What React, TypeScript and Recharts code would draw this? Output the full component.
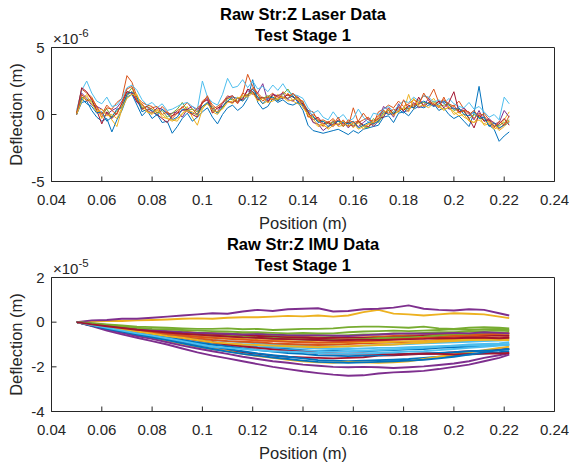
import React from "react";
import { LineChart, Line, XAxis, YAxis } from "recharts";

// ---------- shared ----------
const COLORS = ["#0072BD", "#D95319", "#EDB120", "#7E2F8E", "#77AC30", "#4DBEEE", "#A2142F"];
const xTicks = [0.04, 0.06, 0.08, 0.1, 0.12, 0.14, 0.16, 0.18, 0.2, 0.22, 0.24];
const laserYTicks = [-5, 0, 5];
const imuYTicks = [-4, -2, 0, 2];
const titles = ["Raw Str:Z Laser Data", "Raw Str:Z IMU Data"];
const subtitle = "Test Stage 1";
const xLabel = "Position (m)";
const yLabel = "Deflection (m)";

// ---------- Laser data (units of 1e-6 m) ----------
const laserPos = [
  0.05, 0.052, 0.054, 0.056, 0.058, 0.06, 0.062, 0.064, 0.066, 0.068,
  0.07, 0.072, 0.074, 0.076, 0.078, 0.08, 0.082, 0.084, 0.086, 0.088,
  0.09, 0.092, 0.094, 0.096, 0.098, 0.1, 0.102, 0.104, 0.106, 0.108,
  0.11, 0.112, 0.114, 0.116, 0.118, 0.12, 0.122, 0.124, 0.126, 0.128,
  0.13, 0.132, 0.134, 0.136, 0.138, 0.14, 0.142, 0.144, 0.146, 0.148,
  0.15, 0.152, 0.154, 0.156, 0.158, 0.16, 0.162, 0.164, 0.166, 0.168,
  0.17, 0.172, 0.174, 0.176, 0.178, 0.18, 0.182, 0.184, 0.186, 0.188,
  0.19, 0.192, 0.194, 0.196, 0.198, 0.2, 0.202, 0.204, 0.206, 0.208,
  0.21, 0.212, 0.214, 0.216, 0.218, 0.22, 0.222,
];
const laser01 = [
  0, 0.9, 1.0, 0.3, -0.2, -0.5, -0.3, -1.3, -0.4, 0.3,
  1.3, 1.5, 0.7, -0.1, 0.3, -0.3, 0.0, -0.6, -0.5, -1.4,
  -0.9, -0.3, 0.1, -0.5, -0.2, 0.2, 0.5, -0.2, -0.7, 0.0,
  0.5, 0.7, 0.3, 0.6, 1.2, 2.6, 0.9, 0.4, 0.6, 1.2,
  0.9, 1.1, 0.8, 0.7, 0.9, 0.3, -0.8, -1.2, -1.3, -1.4,
  -1.3, -1.2, -1.1, -1.3, -1.5, -1.2, -1.4, -1.1, -1.0, -0.9,
  -0.8, -0.2, -0.1, -0.6, 0.1, 0.2, -0.1, 0.4, 0.6, 0.5,
  0.7, 0.8, 0.3, 0.5, 0.0, -0.3, -0.1, -0.5, -0.9, 0.1,
  2.1, -0.2, -0.8, -1.1, -2.0, -1.6, -1.3,
];
const laser02 = [
  0.2, 1.9, 1.6, 1.3, 0.5, -0.2, 0.5, 0.4, 0.9, 1.2,
  2.9, 2.4, 1.3, 0.9, 0.7, 0.6, 0.1, 0.6, 0.2, -0.1,
  0.3, 0.5, 0.9, 0.4, 0.0, 1.0, 1.3, 0.7, 0.4, 0.9,
  1.4, 1.2, 0.8, 1.5, 3.0, 2.1, 1.6, 1.2, 1.3, 1.6,
  1.0, 1.7, 1.4, 1.5, 1.3, 0.9, 0.3, 0.2, -0.5, -0.4,
  -0.6, -0.3, -0.8, -0.4, -0.9, 0.5, -0.6, -0.4, -0.2, -0.7,
  0.2, 0.4, 0.7, 0.5, 1.0, 0.6, 0.8, 1.1, 0.9, 1.4,
  1.2, 1.9, 0.9, 1.1, 0.8, 0.6, 1.0, 0.4, 0.0, 0.3,
  -0.2, 0.1, -0.4, -0.6, -1.1, -0.7, -0.5,
];
const laser03 = [
  0.1, 1.1, 1.5, 1.2, 0.6, -0.3, 0.1, -0.4, -0.9, 0.4,
  1.4, 1.7, 1.5, 0.4, 0.2, 0.0, 0.4, -0.2, -0.3, -0.5,
  -0.3, 0.0, 0.6, -0.2, -0.8, 0.4, 0.9, 0.2, 0.0, 0.5,
  1.0, 0.8, 1.3, 1.0, 1.5, 1.6, 1.2, 0.8, 1.0, 1.2,
  1.5, 1.2, 1.6, 1.0, 0.8, 0.7, -0.1, -0.5, -0.9, -0.8,
  -1.0, -0.4, -0.9, -0.8, -0.5, -1.0, -0.6, -1.1, -0.7, -0.8,
  -0.2, 0.3, 0.0, 0.2, 0.5, 0.3, 1.5, 0.4, 1.1, 0.6,
  0.9, 1.2, 0.6, 0.4, 0.5, 0.2, -0.1, 0.0, -0.5, -0.6,
  -0.1, -0.8, -0.7, -1.1, -0.9, -0.4, 0.2,
];
const laser04 = [
  0.0, 1.6, 1.2, 0.7, 0.6, 0.4, 0.0, 0.3, 0.5, 1.0,
  1.7, 1.6, 0.9, 0.7, 0.3, 0.1, 0.5, 0.4, 0.0, 0.1,
  0.2, -0.2, 0.4, 0.6, 0.3, 0.9, 1.2, 0.3, 0.2, 0.8,
  1.3, 1.4, 0.9, 1.2, 1.8, 1.5, 1.6, 2.3, 1.0, 1.5,
  1.4, 1.6, 1.1, 1.0, 1.3, 0.6, 0.2, -0.6, -0.7, -1.2,
  -0.9, -0.5, -0.8, -0.5, -1.0, -0.6, -0.9, -0.6, -0.3, -0.9,
  -0.5, 0.6, 0.3, -0.2, 0.8, 0.2, 0.3, 0.9, 0.5, 0.7,
  1.2, 0.6, 1.0, 0.9, 0.4, 0.5, 0.2, 0.5, 0.1, -0.4,
  0.3, -0.5, -0.3, -0.7, -0.6, 0.3, -0.2,
];
const laser05 = [
  0.1, 1.3, 1.1, 1.0, 0.2, 0.1, 0.4, -0.2, 0.3, 0.6,
  1.5, 2.0, 1.1, 0.5, 0.6, 0.4, 0.1, 0.3, -0.2, 0.1,
  0.4, 0.9, 0.3, 0.4, 0.2, 0.6, 0.8, 0.6, 0.1, 0.5,
  1.2, 1.1, 1.0, 1.3, 1.5, 1.7, 1.3, 1.2, 1.4, 1.3,
  1.1, 1.5, 1.9, 1.3, 1.2, 0.9, 0.0, -0.2, -0.5, -0.5,
  -0.7, -0.6, -0.5, -0.9, -0.6, -0.8, -0.5, -0.9, -1.0, -0.3,
  -0.6, 0.0, 0.3, 0.1, 0.2, 0.5, 0.4, 0.7, 0.8, 0.9,
  0.8, 1.0, 0.6, 0.7, 0.8, 0.3, 0.4, 0.2, -0.3, 0.0,
  -0.2, -0.4, -0.5, -0.9, -0.8, -0.6, -0.4,
];
const laser06 = [
  0.3, 1.8, 2.5, 1.6, 1.0, 0.8, 1.3, 0.6, 0.7, 1.2,
  2.0, 2.2, 1.8, 1.1, 0.7, 0.9, 0.5, 0.8, 0.3, 0.4,
  0.6, 0.8, 0.9, 0.6, 0.4, 2.5, 1.3, 0.9, 0.7, 1.5,
  2.7, 2.0, 2.1, 2.6, 2.0, 2.5, 1.9, 2.1, 1.7, 2.2,
  1.8, 2.3, 1.7, 1.5, 1.4, 1.2, 0.5, 0.1, 0.3, -0.2,
  -0.4, 0.2, -0.3, 0.0, -0.5, -0.3, 0.4, -0.2, -0.6, 0.1,
  0.0, 0.4, 0.6, 0.2, 0.7, 1.0, 0.9, 1.3, 1.0, 1.4,
  1.3, 0.9, 1.1, 0.8, 1.2, 0.8, 0.6, 0.5, 0.9, 0.4,
  0.6, 0.2, -0.2, 0.0, -0.4, 1.3, 0.8,
];
const laser07 = [
  0.0, 2.0, 1.7, 1.1, 0.3, -0.7, 0.2, -0.3, 0.1, 0.8,
  1.7, 1.6, 1.0, 0.4, 0.6, 0.2, 0.0, -0.3, -0.6, -0.1,
  0.1, 0.3, 0.4, 0.0, -0.2, 0.9, 1.1, 0.1, 0.5, 0.6,
  1.0, 0.9, 1.2, 1.1, 1.9, 1.7, 1.1, 1.3, 0.9, 1.5,
  1.3, 1.2, 1.5, 1.3, 1.0, 0.8, 0.2, -0.4, -0.2, -0.7,
  -0.6, -0.9, -0.4, -0.7, -0.6, -0.9, -0.5, -0.8, -0.9, -0.6,
  -0.3, -0.2, 0.5, 0.0, 0.6, 0.3, 0.7, 0.5, 1.3, 0.6,
  0.9, 0.7, 1.0, 0.5, 0.9, 1.7, 0.2, 0.3, -0.3, -1.0,
  0.0, -0.5, -0.4, -0.9, -0.7, -0.3, -0.8,
];
const laser08 = [
  0.0, 1.2, 0.8, 0.6, 0.1, 0.2, -0.5, -0.2, 0.4, 0.5,
  1.5, 1.7, 1.3, 0.2, 0.4, 0.3, -0.1, 0.4, 0.1, -0.4,
  -0.2, 0.4, 0.3, 0.1, 0.0, 0.6, 0.9, 0.4, 0.1, 0.6,
  1.0, 1.3, 1.2, 1.0, 1.4, 1.9, 1.3, 0.8, 1.2, 1.3,
  1.0, 1.3, 1.2, 1.4, 0.9, 0.7, 0.3, -0.1, -0.6, -0.5,
  -0.9, -0.7, -0.5, -0.6, -0.7, -0.5, -1.0, -0.8, -0.6, -0.7,
  -0.5, 0.2, 0.0, 0.1, 0.4, 0.1, 0.6, 0.5, 0.8, 1.0,
  0.8, 0.6, 0.8, 1.0, 0.7, 0.4, 0.5, 0.0, -0.1, 0.2,
  -0.3, -0.2, -0.9, -0.6, -1.0, -0.8, -0.6,
];
const laser09 = [
  0.1, 1.5, 1.0, 1.2, 0.6, 0.0, 0.7, 0.3, 0.0, 0.9,
  1.9, 2.1, 1.0, 0.8, 0.3, 0.5, 0.6, 0.0, 0.2, -0.3,
  0.1, 0.6, 0.2, 0.0, 0.5, 0.8, 1.4, 0.4, 0.6, 0.9,
  1.2, 1.4, 0.9, 1.6, 1.4, 2.0, 1.5, 1.0, 1.3, 1.1,
  1.4, 1.3, 1.2, 1.6, 1.1, 1.0, -0.2, 0.0, -0.3, -0.9,
  -0.5, -0.8, -0.2, -0.9, -0.4, -0.6, -0.5, 0.1, -0.4, -0.5,
  -0.1, 0.3, 0.1, 0.4, 0.2, 1.1, 0.4, 0.8, 0.7, 1.6,
  1.0, 0.8, 0.5, 1.3, 0.5, 0.7, 0.1, 0.3, 0.2, -0.3,
  0.1, -0.1, -0.6, -1.0, -0.5, -0.8, -0.1,
];
const laser10 = [
  0.0, 1.0, 1.4, 0.8, 0.2, 0.4, -0.1, 0.0, -0.3, 0.5,
  1.2, 1.5, 1.4, 0.7, 0.2, 0.1, 0.3, 0.0, -0.3, -0.4,
  -0.5, 0.1, 0.3, 0.2, -0.1, 0.5, 0.8, 0.3, 0.2, 0.4,
  0.9, 1.0, 1.2, 1.4, 1.3, 1.6, 1.0, 1.2, 0.9, 1.0,
  1.2, 1.3, 1.0, 1.1, 1.2, 0.5, 0.0, -0.3, -0.8, -0.7,
  -1.1, -0.8, -0.7, -0.5, -0.9, -0.6, -1.1, -0.9, -0.7, -0.6,
  -0.4, 0.1, 0.4, -0.1, 0.3, 0.5, 0.2, 1.2, 0.6, 0.7,
  0.5, 0.9, 0.6, 0.3, 0.6, 0.0, 0.2, -0.2, -0.4, -0.6,
  -0.4, -0.7, -0.5, -0.8, -1.2, -0.9, -0.5,
];
const laserRuns = [laser01, laser02, laser03, laser04, laser05, laser06, laser07, laser08, laser09, laser10];

// ---------- IMU data (units of 1e-5 m) ----------
const imuPos = [
  0.05, 0.056, 0.062, 0.068, 0.074, 0.08, 0.086, 0.092, 0.098, 0.104,
  0.11, 0.116, 0.122, 0.128, 0.134, 0.14, 0.146, 0.152, 0.158, 0.164,
  0.17, 0.176, 0.182, 0.188, 0.194, 0.2, 0.206, 0.212, 0.218, 0.222,
];
const imu01 = [0, -0.08, -0.2, -0.3, -0.42, -0.5, -0.6, -0.72, -0.85, -0.92, -1.0, -1.05, -1.12, -1.15, -1.2, -1.25, -1.3, -1.28, -1.32, -1.3, -1.27, -1.25, -1.22, -1.2, -1.15, -1.12, -1.1, -1.05, -1.02, -1.0];
const imu02 = [0, -0.1, -0.18, -0.25, -0.35, -0.4, -0.45, -0.52, -0.55, -0.6, -0.62, -0.65, -0.7, -0.72, -0.75, -0.76, -0.8, -0.78, -0.8, -0.77, -0.75, -0.74, -0.7, -0.72, -0.68, -0.65, -0.63, -0.62, -0.6, -0.58];
const imu03 = [0, 0.03, 0.05, 0.05, 0.08, 0.1, 0.12, 0.15, 0.17, 0.15, 0.2, 0.22, 0.22, 0.25, 0.28, 0.26, 0.3, 0.25, 0.3, 0.45, 0.55, 0.38, 0.35, 0.3, 0.35, 0.4, 0.38, 0.35, 0.25, 0.18];
const imu04 = [0, 0.08, 0.1, 0.15, 0.15, 0.2, 0.25, 0.3, 0.35, 0.4, 0.38, 0.48, 0.55, 0.5, 0.58, 0.6, 0.62, 0.48, 0.5, 0.58, 0.6, 0.65, 0.75, 0.6, 0.55, 0.52, 0.58, 0.55, 0.4, 0.3];
const imu05 = [0, -0.05, -0.1, -0.15, -0.2, -0.22, -0.25, -0.28, -0.3, -0.3, -0.28, -0.32, -0.3, -0.35, -0.33, -0.3, -0.3, -0.28, -0.22, -0.2, -0.2, -0.22, -0.25, -0.2, -0.28, -0.3, -0.25, -0.22, -0.25, -0.28];
const imu06 = [0, -0.1, -0.2, -0.3, -0.38, -0.45, -0.55, -0.62, -0.7, -0.8, -0.85, -0.9, -0.95, -1.0, -1.02, -1.05, -1.1, -1.08, -1.1, -1.05, -1.02, -1.0, -0.98, -0.95, -0.92, -0.9, -0.88, -0.85, -0.82, -0.8];
const imu07 = [0, -0.15, -0.3, -0.45, -0.58, -0.7, -0.82, -0.95, -1.08, -1.2, -1.28, -1.35, -1.42, -1.5, -1.55, -1.58, -1.6, -1.62, -1.6, -1.57, -1.5, -1.48, -1.45, -1.42, -1.4, -1.35, -1.3, -1.28, -1.22, -1.2];
const imu08 = [0, -0.12, -0.25, -0.38, -0.5, -0.62, -0.75, -0.88, -1.0, -1.1, -1.2, -1.3, -1.4, -1.48, -1.55, -1.62, -1.7, -1.72, -1.75, -1.72, -1.7, -1.68, -1.65, -1.6, -1.55, -1.5, -1.45, -1.4, -1.35, -1.3];
const imu09 = [0, -0.08, -0.15, -0.22, -0.3, -0.35, -0.4, -0.42, -0.48, -0.5, -0.52, -0.55, -0.58, -0.6, -0.62, -0.65, -0.68, -0.7, -0.7, -0.68, -0.65, -0.62, -0.6, -0.58, -0.55, -0.55, -0.52, -0.5, -0.48, -0.5];
const imu10 = [0, -0.15, -0.3, -0.45, -0.6, -0.72, -0.85, -0.98, -1.1, -1.2, -1.3, -1.42, -1.52, -1.6, -1.68, -1.75, -1.8, -1.82, -1.78, -1.8, -1.82, -1.8, -1.75, -1.65, -1.55, -1.45, -1.35, -1.25, -1.15, -1.1];
const imu11 = [0, -0.18, -0.38, -0.55, -0.7, -0.85, -1.0, -1.18, -1.35, -1.5, -1.62, -1.75, -1.88, -2.0, -2.1, -2.2, -2.28, -2.35, -2.4, -2.38, -2.3, -2.25, -2.22, -2.18, -2.1, -2.0, -1.9, -1.75, -1.6, -1.45];
const imu12 = [0, -0.1, -0.18, -0.25, -0.32, -0.38, -0.42, -0.45, -0.5, -0.5, -0.52, -0.55, -0.55, -0.58, -0.6, -0.58, -0.6, -0.62, -0.58, -0.55, -0.55, -0.5, -0.52, -0.48, -0.45, -0.45, -0.42, -0.4, -0.38, -0.4];
const imu13 = [0, -0.12, -0.25, -0.35, -0.45, -0.55, -0.65, -0.78, -0.9, -1.0, -1.05, -1.1, -1.15, -1.2, -1.25, -1.28, -1.3, -1.32, -1.3, -1.28, -1.25, -1.22, -1.18, -1.15, -1.1, -1.05, -1.0, -0.98, -0.95, -0.9];
const imu14 = [0, -0.1, -0.2, -0.28, -0.35, -0.4, -0.45, -0.48, -0.5, -0.52, -0.55, -0.6, -0.62, -0.65, -0.68, -0.7, -0.72, -0.7, -0.68, -0.7, -0.72, -0.68, -0.65, -0.62, -0.6, -0.62, -0.6, -0.58, -0.6, -0.62];
const imu15 = [0, -0.1, -0.22, -0.35, -0.45, -0.55, -0.68, -0.8, -0.92, -1.0, -1.08, -1.18, -1.25, -1.32, -1.38, -1.42, -1.48, -1.5, -1.52, -1.5, -1.48, -1.45, -1.42, -1.4, -1.38, -1.35, -1.3, -1.28, -1.25, -1.2];
const imu16 = [0, -0.1, -0.22, -0.32, -0.4, -0.48, -0.56, -0.65, -0.72, -0.8, -0.85, -0.88, -0.9, -0.95, -0.98, -1.0, -1.02, -1.0, -0.98, -0.95, -0.92, -0.9, -0.88, -0.85, -0.8, -0.78, -0.75, -0.72, -0.7, -0.7];
const imu17 = [0, -0.1, -0.18, -0.28, -0.35, -0.42, -0.5, -0.58, -0.65, -0.7, -0.72, -0.75, -0.8, -0.82, -0.85, -0.88, -0.9, -0.92, -0.9, -0.88, -0.9, -0.88, -0.85, -0.85, -0.82, -0.8, -0.8, -0.78, -0.8, -0.8];
const imu18 = [0, -0.15, -0.32, -0.48, -0.62, -0.75, -0.9, -1.05, -1.18, -1.3, -1.42, -1.55, -1.65, -1.75, -1.82, -1.9, -1.95, -2.0, -2.02, -2.0, -2.02, -2.05, -2.02, -1.98, -1.92, -1.85, -1.75, -1.6, -1.48, -1.4];
const imu19 = [0, -0.08, -0.18, -0.25, -0.32, -0.4, -0.45, -0.5, -0.55, -0.6, -0.62, -0.65, -0.7, -0.72, -0.75, -0.78, -0.8, -0.8, -0.78, -0.75, -0.72, -0.7, -0.68, -0.65, -0.6, -0.58, -0.55, -0.52, -0.5, -0.5];
const imu20 = [0, -0.1, -0.22, -0.32, -0.42, -0.5, -0.6, -0.7, -0.8, -0.9, -0.95, -1.0, -1.05, -1.1, -1.12, -1.15, -1.18, -1.2, -1.2, -1.18, -1.15, -1.15, -1.12, -1.1, -1.08, -1.05, -1.05, -1.02, -1.0, -1.0];
const imu21 = [0, -0.1, -0.2, -0.3, -0.4, -0.5, -0.6, -0.7, -0.8, -0.9, -1.0, -1.08, -1.15, -1.22, -1.28, -1.32, -1.38, -1.4, -1.42, -1.4, -1.42, -1.45, -1.42, -1.4, -1.42, -1.45, -1.42, -1.4, -1.4, -1.38];
const imu22 = [0, -0.15, -0.3, -0.42, -0.55, -0.68, -0.8, -0.95, -1.08, -1.2, -1.32, -1.42, -1.5, -1.58, -1.65, -1.72, -1.78, -1.8, -1.82, -1.8, -1.78, -1.75, -1.72, -1.68, -1.62, -1.55, -1.45, -1.35, -1.25, -1.2];
const imu23 = [0, -0.1, -0.2, -0.3, -0.38, -0.45, -0.52, -0.6, -0.65, -0.7, -0.75, -0.78, -0.82, -0.85, -0.88, -0.9, -0.92, -0.9, -0.88, -0.85, -0.82, -0.78, -0.75, -0.7, -0.68, -0.62, -0.6, -0.55, -0.52, -0.5];
const imu24 = [0, -0.12, -0.22, -0.32, -0.42, -0.52, -0.62, -0.7, -0.8, -0.9, -0.95, -1.0, -1.02, -1.05, -1.08, -1.1, -1.12, -1.1, -1.08, -1.05, -1.02, -1.0, -0.95, -0.92, -0.88, -0.85, -0.8, -0.78, -0.72, -0.7];
const imu25 = [0, -0.08, -0.15, -0.22, -0.3, -0.35, -0.4, -0.45, -0.48, -0.5, -0.52, -0.55, -0.52, -0.55, -0.58, -0.6, -0.58, -0.6, -0.62, -0.58, -0.55, -0.52, -0.5, -0.52, -0.5, -0.48, -0.5, -0.45, -0.48, -0.5];
const imu26 = [0, -0.06, -0.12, -0.18, -0.25, -0.3, -0.32, -0.35, -0.38, -0.4, -0.42, -0.45, -0.45, -0.48, -0.5, -0.48, -0.5, -0.5, -0.45, -0.42, -0.4, -0.38, -0.4, -0.38, -0.35, -0.32, -0.35, -0.32, -0.3, -0.35];
const imu27 = [0, -0.12, -0.25, -0.38, -0.5, -0.6, -0.72, -0.85, -0.98, -1.1, -1.15, -1.2, -1.25, -1.3, -1.32, -1.35, -1.38, -1.4, -1.42, -1.4, -1.38, -1.35, -1.32, -1.3, -1.25, -1.2, -1.15, -1.1, -1.05, -1.0];
const imu28 = [0, -0.1, -0.18, -0.26, -0.34, -0.4, -0.46, -0.52, -0.56, -0.6, -0.64, -0.68, -0.7, -0.74, -0.76, -0.78, -0.8, -0.82, -0.8, -0.78, -0.8, -0.78, -0.76, -0.75, -0.72, -0.72, -0.7, -0.7, -0.72, -0.7];
const imuRuns = [
  imu01, imu02, imu03, imu04, imu05, imu06, imu07, imu08, imu09, imu10,
  imu11, imu12, imu13, imu14, imu15, imu16, imu17, imu18, imu19, imu20,
  imu21, imu22, imu23, imu24, imu25, imu26, imu27, imu28,
];

// ---------- helpers ----------
function buildRows(pos: number[], runs: number[][]) {
  return pos.map((x, i) => {
    const row: Record<string, number> = { x };
    runs.forEach((r, k) => {
      row["r" + k] = r[i];
    });
    return row;
  });
}

const FONT = "'Liberation Sans', Arial, Helvetica, sans-serif";
const AX = "#262626";
const W = 569;
const H = 230;
// plot area: x 51.5..554.5, y 47.5..181.5 (within each 230px panel)
const LEFT_W = 40;
const RIGHT_W = 10;
const TOP_H = 10;
const BOTTOM_H = 40;
const M = { top: 47.5 - TOP_H, right: 14.5 - RIGHT_W, bottom: 48.5 - BOTTOM_H, left: 51.5 - LEFT_W };
const PLOT_L = 51.5;
const PLOT_R = 554.5;

function Panel({
  rows,
  count,
  yDomain,
  yTicks,
  strokeWidth,
}: {
  rows: Record<string, number>[];
  count: number;
  yDomain: [number, number];
  yTicks: number[];
  strokeWidth: number;
}) {
  const tickStyle = { fill: AX, fontSize: 15, fontFamily: FONT };
  return (
    <LineChart width={W} height={H} data={rows} margin={M}>
      <XAxis
        xAxisId="b"
        orientation="bottom"
        type="number"
        dataKey="x"
        domain={[0.04, 0.24]}
        ticks={xTicks}
        allowDataOverflow
        height={BOTTOM_H}
        tickSize={-5}
        tickMargin={17.5}
        tick={tickStyle}
        stroke={AX}
        axisLine={{ stroke: AX }}
        tickLine={{ stroke: AX }}
        interval={0}
        tickFormatter={(v: number) => String(v)}
      />
      <XAxis
        xAxisId="t"
        orientation="top"
        type="number"
        dataKey="x"
        domain={[0.04, 0.24]}
        ticks={xTicks}
        allowDataOverflow
        height={TOP_H}
        tickSize={-5}
        tick={false}
        stroke={AX}
        axisLine={{ stroke: AX }}
        tickLine={{ stroke: AX }}
        interval={0}
      />
      <YAxis
        yAxisId="l"
        orientation="left"
        type="number"
        domain={yDomain}
        ticks={yTicks}
        allowDataOverflow
        width={LEFT_W}
        tickSize={-5}
        tickMargin={12}
        tick={tickStyle}
        stroke={AX}
        axisLine={{ stroke: AX }}
        tickLine={{ stroke: AX }}
        interval={0}
      />
      <YAxis
        yAxisId="r"
        orientation="right"
        type="number"
        domain={yDomain}
        ticks={yTicks}
        allowDataOverflow
        width={RIGHT_W}
        tickSize={-5}
        tick={false}
        stroke={AX}
        axisLine={{ stroke: AX }}
        tickLine={{ stroke: AX }}
        interval={0}
      />
      {Array.from({ length: count }).map((_, k) => (
        <Line
          key={k}
          xAxisId="b"
          yAxisId="l"
          type="linear"
          dataKey={"r" + k}
          stroke={COLORS[k % COLORS.length]}
          strokeWidth={strokeWidth}
          dot={false}
          activeDot={false}
          isAnimationActive={false}
        />
      ))}
    </LineChart>
  );
}

function Texts({ top, title, exp }: { top: number; title: string; exp: string }) {
  const cx = (PLOT_L + PLOT_R) / 2;
  return (
    <g fontFamily={FONT}>
      <text x={cx} y={top + 20} textAnchor="middle" fontSize={16.5} fontWeight="bold" fill="#000">
        {title}
      </text>
      <text x={cx} y={top + 41} textAnchor="middle" fontSize={16.5} fontWeight="bold" fill="#000">
        {subtitle}
      </text>
      <text x={53} y={top + 43.5} fontSize={15} fill={AX}>
        {"\u00d710"}
        <tspan dy={-7} fontSize={11.5}>
          {exp}
        </tspan>
      </text>
      <text x={cx} y={top + 229} textAnchor="middle" fontSize={16.5} fill={AX}>
        {xLabel}
      </text>
      <text
        x={22}
        y={top + 114.5}
        textAnchor="middle"
        fontSize={16.5}
        fill={AX}
        transform={`rotate(-90 22 ${top + 114.5})`}
      >
        {yLabel}
      </text>
    </g>
  );
}

export default function App() {
  const laserRows = buildRows(laserPos, laserRuns);
  const imuRows = buildRows(imuPos, imuRuns);
  return (
    <div style={{ position: "absolute", left: 0, top: 0, width: W, height: 463, background: "#fff" }}>
      <div style={{ position: "absolute", left: 0, top: 0 }}>
        <Panel rows={laserRows} count={laserRuns.length} yDomain={[-5, 5]} yTicks={laserYTicks} strokeWidth={1} />
      </div>
      <div style={{ position: "absolute", left: 0, top: 230 }}>
        <Panel rows={imuRows} count={imuRuns.length} yDomain={[-4, 2]} yTicks={imuYTicks} strokeWidth={1.9} />
      </div>
      <svg
        width={W}
        height={463}
        style={{ position: "absolute", left: 0, top: 0, pointerEvents: "none" }}
      >
        <Texts top={0} title={titles[0]} exp="-6" />
        <Texts top={230} title={titles[1]} exp="-5" />
      </svg>
    </div>
  );
}
